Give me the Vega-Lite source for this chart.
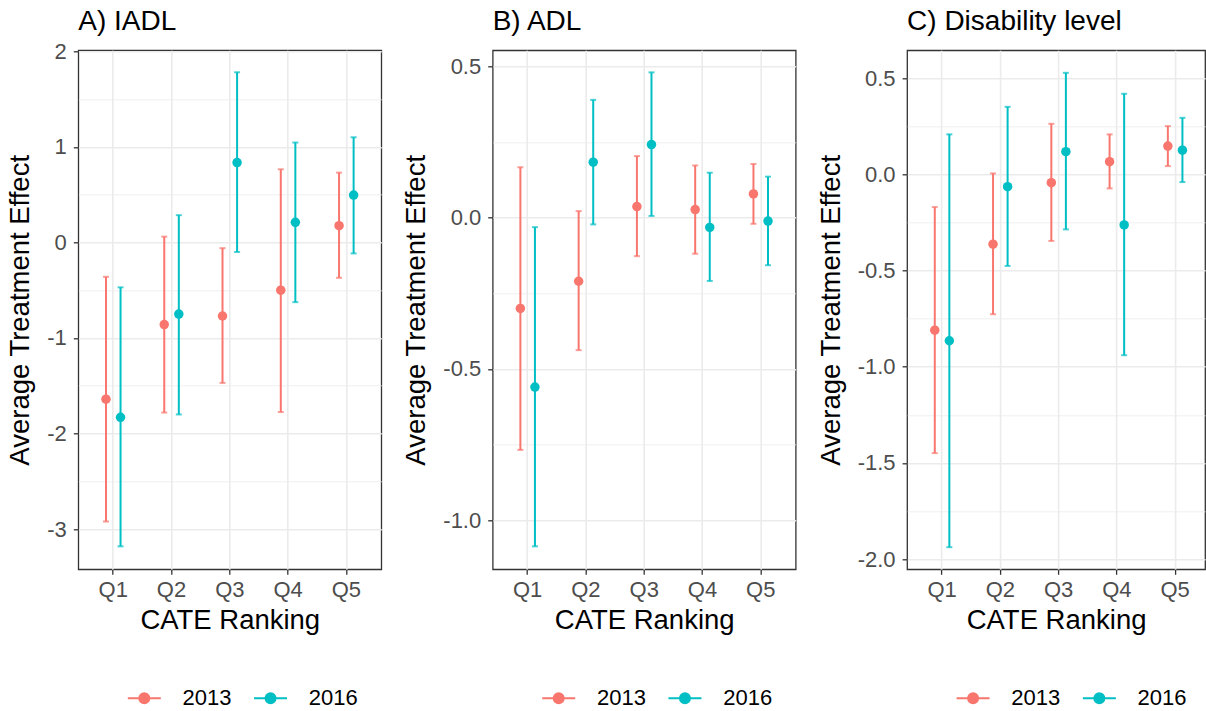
{
  "$schema": "https://vega.github.io/schema/vega-lite/v6.json",
  "padding": {"left": 5.3, "top": 6.3, "right": 0, "bottom": 0},
  "autosize": {"type": "pad"},
  "background": "white",
  "data": {"values": [
    {"panel": "A", "q": "Q1", "year": "2013", "est": -1.64, "lo": -2.92, "hi": -0.36},
    {"panel": "A", "q": "Q1", "year": "2016", "est": -1.83, "lo": -3.18, "hi": -0.47},
    {"panel": "A", "q": "Q2", "year": "2013", "est": -0.86, "lo": -1.78, "hi": 0.06},
    {"panel": "A", "q": "Q2", "year": "2016", "est": -0.75, "lo": -1.80, "hi": 0.285},
    {"panel": "A", "q": "Q3", "year": "2013", "est": -0.77, "lo": -1.47, "hi": -0.06},
    {"panel": "A", "q": "Q3", "year": "2016", "est": 0.835, "lo": -0.10, "hi": 1.78},
    {"panel": "A", "q": "Q4", "year": "2013", "est": -0.50, "lo": -1.775, "hi": 0.765},
    {"panel": "A", "q": "Q4", "year": "2016", "est": 0.21, "lo": -0.625, "hi": 1.045},
    {"panel": "A", "q": "Q5", "year": "2013", "est": 0.175, "lo": -0.37, "hi": 0.73},
    {"panel": "A", "q": "Q5", "year": "2016", "est": 0.495, "lo": -0.115, "hi": 1.10},
    {"panel": "B", "q": "Q1", "year": "2013", "est": -0.30, "lo": -0.768, "hi": 0.167},
    {"panel": "B", "q": "Q1", "year": "2016", "est": -0.56, "lo": -1.087, "hi": -0.031},
    {"panel": "B", "q": "Q2", "year": "2013", "est": -0.21, "lo": -0.438, "hi": 0.022},
    {"panel": "B", "q": "Q2", "year": "2016", "est": 0.184, "lo": -0.022, "hi": 0.39},
    {"panel": "B", "q": "Q3", "year": "2013", "est": 0.037, "lo": -0.127, "hi": 0.204},
    {"panel": "B", "q": "Q3", "year": "2016", "est": 0.242, "lo": 0.006, "hi": 0.481},
    {"panel": "B", "q": "Q4", "year": "2013", "est": 0.027, "lo": -0.119, "hi": 0.173},
    {"panel": "B", "q": "Q4", "year": "2016", "est": -0.032, "lo": -0.209, "hi": 0.149},
    {"panel": "B", "q": "Q5", "year": "2013", "est": 0.079, "lo": -0.020, "hi": 0.178},
    {"panel": "B", "q": "Q5", "year": "2016", "est": -0.011, "lo": -0.157, "hi": 0.136},
    {"panel": "C", "q": "Q1", "year": "2013", "est": -0.81, "lo": -1.449, "hi": -0.17},
    {"panel": "C", "q": "Q1", "year": "2016", "est": -0.865, "lo": -1.938, "hi": 0.208},
    {"panel": "C", "q": "Q2", "year": "2013", "est": -0.363, "lo": -0.727, "hi": 0.005},
    {"panel": "C", "q": "Q2", "year": "2016", "est": -0.064, "lo": -0.476, "hi": 0.351},
    {"panel": "C", "q": "Q3", "year": "2013", "est": -0.043, "lo": -0.346, "hi": 0.263},
    {"panel": "C", "q": "Q3", "year": "2016", "est": 0.118, "lo": -0.286, "hi": 0.528},
    {"panel": "C", "q": "Q4", "year": "2013", "est": 0.066, "lo": -0.073, "hi": 0.208},
    {"panel": "C", "q": "Q4", "year": "2016", "est": -0.263, "lo": -0.94, "hi": 0.419},
    {"panel": "C", "q": "Q5", "year": "2013", "est": 0.147, "lo": 0.043, "hi": 0.251},
    {"panel": "C", "q": "Q5", "year": "2016", "est": 0.126, "lo": -0.040, "hi": 0.294}
  ]},
  "spacing": 19.4,
  "resolve": {"scale": {"color": "independent", "y": "independent"}, "legend": {"color": "independent"}},
  "hconcat": [
    {
      "width": 303, "height": 519,
      "title": {"text": "A) IADL", "offset": 4},
      "transform": [{"filter": "datum.panel === 'A'"}],
      "encoding": {
        "x": {"field": "q", "type": "nominal", "sort": ["Q1","Q2","Q3","Q4","Q5"], "scale": {"type": "band", "paddingInner": 0, "paddingOuter": 0.1}, "axis": {"title": "CATE Ranking", "labelAngle": 0, "grid": true, "bandPosition": 0.5}},
        "xOffset": {"field": "year", "type": "nominal", "scale": {"paddingInner": 0, "paddingOuter": 2.3125}},
        "color": {"field": "year", "type": "nominal", "scale": {"domain": ["2013","2016"], "range": ["#F8766D","#00BFC4"]}, "legend": {"legendX": 55, "legendY": 637}}
      },
      "layer": [
        {"mark": {"type": "rule", "strokeWidth": 2}, "encoding": {
          "y": {"field": "lo", "type": "quantitative", "title": "Average Treatment Effect", "scale": {"domain": [-3.42, 2.01], "nice": false, "zero": false},
                "axis": {"values": [-3,-2.5,-2,-1.5,-1,-0.5,0,0.5,1,1.5,2], "format": ".0f",
                         "labelExpr": "abs(datum.value - round(datum.value)) < 0.000001 ? replace(datum.label, '\u2212', '-') : ''",
                         "gridWidth": {"condition": {"test": "abs(datum.value - round(datum.value)) < 0.000001", "value": 1.6}, "value": 0.8},
                         "tickOpacity": {"condition": {"test": "abs(datum.value - round(datum.value)) < 0.000001", "value": 1}, "value": 0}}},
          "y2": {"field": "hi"}}},
        {"mark": {"type": "tick", "orient": "horizontal", "size": 6, "thickness": 2}, "encoding": {"y": {"field": "hi", "type": "quantitative", "title": "Average Treatment Effect"}}},
        {"mark": {"type": "tick", "orient": "horizontal", "size": 6, "thickness": 2}, "encoding": {"y": {"field": "lo", "type": "quantitative", "title": "Average Treatment Effect"}}},
        {"mark": {"type": "point", "filled": true, "size": 90, "opacity": 1}, "encoding": {"y": {"field": "est", "type": "quantitative", "title": "Average Treatment Effect"}}}
      ]
    },
    {
      "width": 303, "height": 519,
      "title": {"text": "B) ADL", "offset": 14.4},
      "transform": [{"filter": "datum.panel === 'B'"}],
      "encoding": {
        "x": {"field": "q", "type": "nominal", "sort": ["Q1","Q2","Q3","Q4","Q5"], "scale": {"type": "band", "paddingInner": 0, "paddingOuter": 0.1}, "axis": {"title": "CATE Ranking", "labelAngle": 0, "grid": true, "bandPosition": 0.5}},
        "xOffset": {"field": "year", "type": "nominal", "scale": {"paddingInner": 0, "paddingOuter": 2.3125}},
        "color": {"field": "year", "type": "nominal", "scale": {"domain": ["2013","2016"], "range": ["#F8766D","#00BFC4"]}, "legend": {"legendX": 55, "legendY": 637}}
      },
      "layer": [
        {"mark": {"type": "rule", "strokeWidth": 2}, "encoding": {
          "y": {"field": "lo", "type": "quantitative", "title": "Average Treatment Effect", "scale": {"domain": [-1.163, 0.554], "nice": false, "zero": false},
                "axis": {"values": [-1,-0.75,-0.5,-0.25,0,0.25,0.5], "format": ".1f",
                         "labelExpr": "abs(datum.value*2 - round(datum.value*2)) < 0.000001 ? replace(datum.label, '\u2212', '-') : ''",
                         "gridWidth": {"condition": {"test": "abs(datum.value*2 - round(datum.value*2)) < 0.000001", "value": 1.6}, "value": 0.8},
                         "tickOpacity": {"condition": {"test": "abs(datum.value*2 - round(datum.value*2)) < 0.000001", "value": 1}, "value": 0}}},
          "y2": {"field": "hi"}}},
        {"mark": {"type": "tick", "orient": "horizontal", "size": 6, "thickness": 2}, "encoding": {"y": {"field": "hi", "type": "quantitative", "title": "Average Treatment Effect"}}},
        {"mark": {"type": "tick", "orient": "horizontal", "size": 6, "thickness": 2}, "encoding": {"y": {"field": "lo", "type": "quantitative", "title": "Average Treatment Effect"}}},
        {"mark": {"type": "point", "filled": true, "size": 90, "opacity": 1}, "encoding": {"y": {"field": "est", "type": "quantitative", "title": "Average Treatment Effect"}}}
      ]
    },
    {
      "width": 298, "height": 519,
      "title": {"text": "C) Disability level", "offset": 14.4},
      "transform": [{"filter": "datum.panel === 'C'"}],
      "encoding": {
        "x": {"field": "q", "type": "nominal", "sort": ["Q1","Q2","Q3","Q4","Q5"], "scale": {"type": "band", "paddingInner": 0, "paddingOuter": 0.057, "align": 0.877}, "axis": {"title": "CATE Ranking", "labelAngle": 0, "grid": true, "bandPosition": 0.5}},
        "xOffset": {"field": "year", "type": "nominal", "scale": {"paddingInner": 0, "paddingOuter": 2.3125}},
        "color": {"field": "year", "type": "nominal", "scale": {"domain": ["2013","2016"], "range": ["#F8766D","#00BFC4"]}, "legend": {"legendX": 55, "legendY": 637}}
      },
      "layer": [
        {"mark": {"type": "rule", "strokeWidth": 2}, "encoding": {
          "y": {"field": "lo", "type": "quantitative", "title": "Average Treatment Effect", "scale": {"domain": [-2.053, 0.645], "nice": false, "zero": false},
                "axis": {"values": [-2,-1.75,-1.5,-1.25,-1,-0.75,-0.5,-0.25,0,0.25,0.5], "format": ".1f",
                         "labelExpr": "abs(datum.value*2 - round(datum.value*2)) < 0.000001 ? replace(datum.label, '\u2212', '-') : ''",
                         "gridWidth": {"condition": {"test": "abs(datum.value*2 - round(datum.value*2)) < 0.000001", "value": 1.6}, "value": 0.8},
                         "tickOpacity": {"condition": {"test": "abs(datum.value*2 - round(datum.value*2)) < 0.000001", "value": 1}, "value": 0}}},
          "y2": {"field": "hi"}}},
        {"mark": {"type": "tick", "orient": "horizontal", "size": 6, "thickness": 2}, "encoding": {"y": {"field": "hi", "type": "quantitative", "title": "Average Treatment Effect"}}},
        {"mark": {"type": "tick", "orient": "horizontal", "size": 6, "thickness": 2}, "encoding": {"y": {"field": "lo", "type": "quantitative", "title": "Average Treatment Effect"}}},
        {"mark": {"type": "point", "filled": true, "size": 90, "opacity": 1}, "encoding": {"y": {"field": "est", "type": "quantitative", "title": "Average Treatment Effect"}}}
      ]
    }
  ],
  "config": {
    "font": "Liberation Sans",
    "view": {"stroke": "#333333", "strokeWidth": 1.3},
    "axis": {
      "domain": false,
      "gridColor": "#EBEBEB",
      "gridWidth": 1.6,
      "tickColor": "#333333",
      "tickSize": 5,
      "tickWidth": 1.3,
      "labelColor": "#4D4D4D",
      "labelFontSize": 22,
      "labelFont": "Liberation Sans",
      "labelPadding": 5,
      "titleFont": "Liberation Sans",
      "titleFontSize": 27.5,
      "titleFontWeight": "normal",
      "titleColor": "#000000",
      "titlePadding": 6
    },
    "axisY": {"labelPadding": 7, "titlePadding": 12},
    "title": {"anchor": "start", "frame": "group", "fontSize": 28, "fontWeight": "normal", "font": "Liberation Sans", "color": "#000000"},
    "legend": {
      "orient": "none",
      "direction": "horizontal",
      "title": null,
      "symbolType": "M-2,0L2,0M0.606,0A0.606,0.606,0,1,1,-0.606,0A0.606,0.606,0,1,1,0.606,0Z",
      "symbolSize": 272,
      "symbolStrokeWidth": 2,
      "symbolOpacity": 1,
      "labelFontSize": 22,
      "labelFont": "Liberation Sans",
      "labelColor": "#000000",
      "labelOffset": 27.25,
      "columnPadding": 17.25,
      "padding": 0,
      "encode": {"symbols": {"update": {
        "stroke": {"signal": "datum.value === '2013' ? '#F8766D' : '#00BFC4'"},
        "fill": {"signal": "datum.value === '2013' ? '#F8766D' : '#00BFC4'"},
        "opacity": {"value": 1},
        "fillOpacity": {"value": 1},
        "strokeOpacity": {"value": 1}
      }}}
    }
  }
}
